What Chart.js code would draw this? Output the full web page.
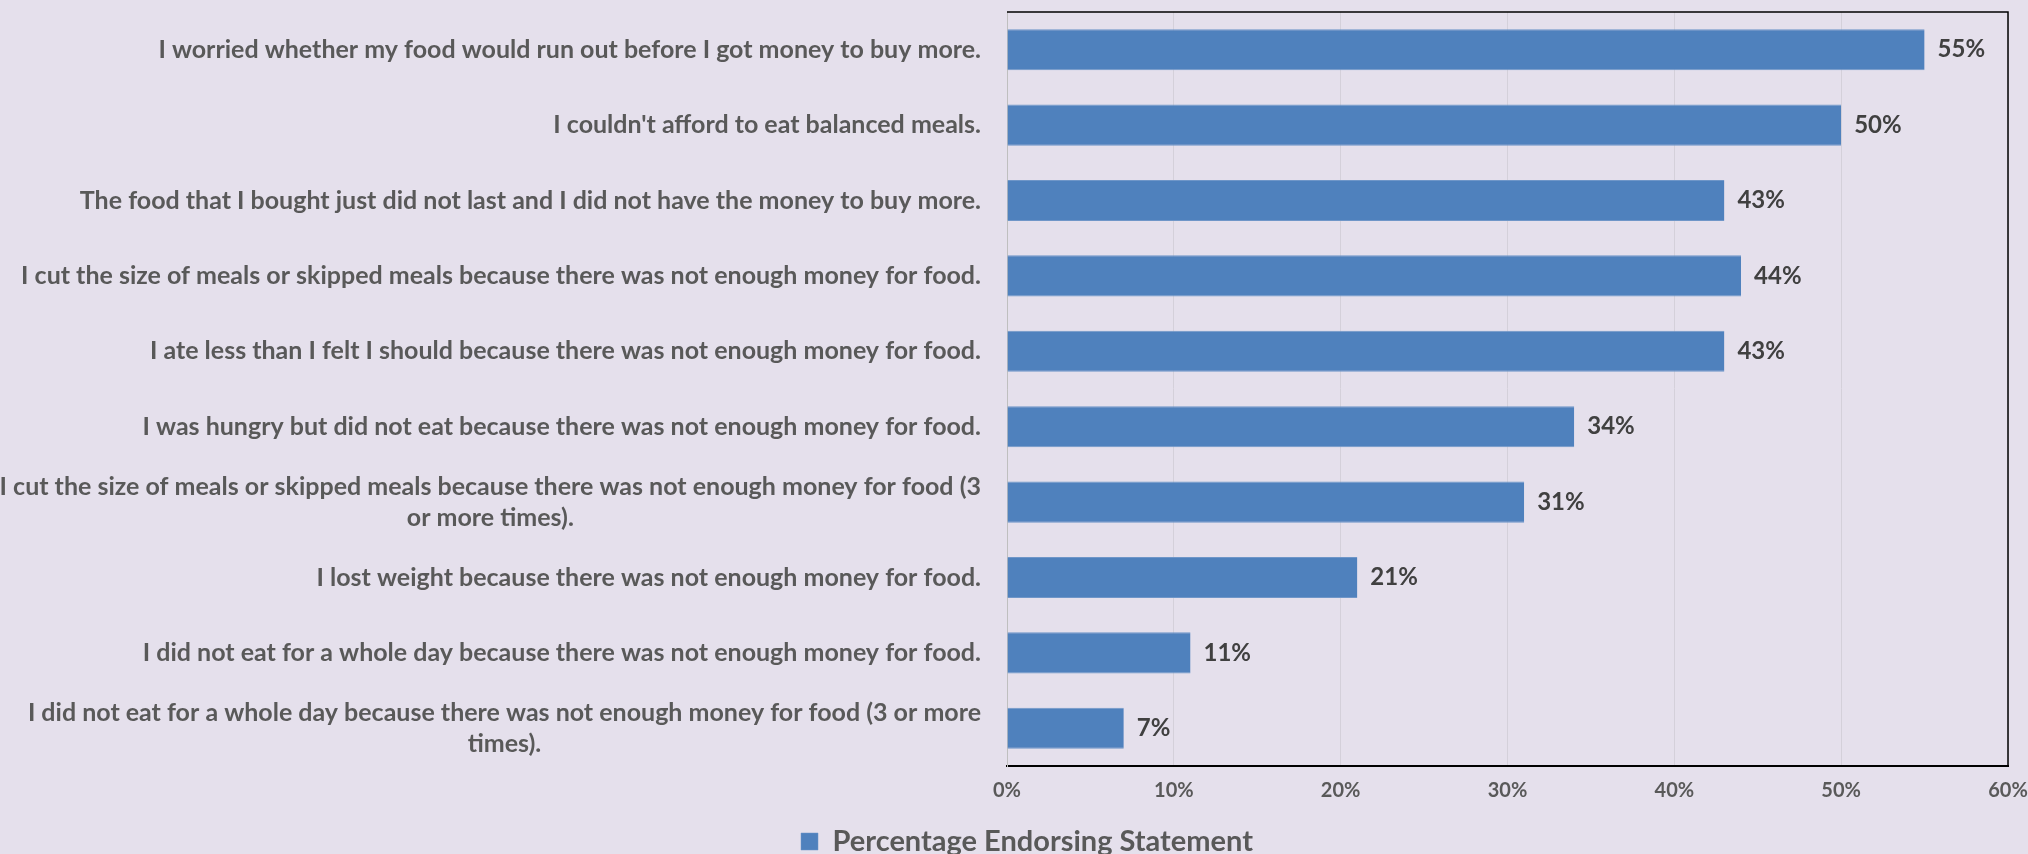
<!DOCTYPE html>
<html>
<head>
<meta charset="utf-8">
<script src="https://cdn.jsdelivr.net/npm/chart.js@4"></script>
<style>
    html, body { margin: 0; padding: 0; background: #E5E0EC; overflow: hidden; }
    #wrap { position: relative; width: 2028px; height: 854px; }
</style>
</head>
<body>
<div id="wrap"><canvas id="chart"></canvas></div>
<script>
// ===== Data =====
const statements = [
    'I worried whether my food would run out before I got money to buy more.',
    "I couldn't afford to eat balanced meals.",
    'The food that I bought just did not last and I did not have the money to buy more.',
    'I cut the size of meals or skipped meals because there was not enough money for food.',
    'I ate less than I felt I should because there was not enough money for food.',
    'I was hungry but did not eat because there was not enough money for food.',
    ['I cut the size of meals or skipped meals because there was not enough money for food (3', 'or more times).'],
    'I lost weight because there was not enough money for food.',
    'I did not eat for a whole day because there was not enough money for food.',
    ['I did not eat for a whole day because there was not enough money for food (3 or more', 'times).']
];
const endorsed = [55, 50, 43, 44, 43, 34, 31, 21, 11, 7];
const xMin = 0;
const xMax = 60;
const xStep = 10;
const seriesName = 'Percentage Endorsing Statement';

const BAR_COLOR = '#4F81BD';
const LABEL_COLOR = '#595959';
const VALUE_COLOR = '#404040';
const FONT = 'Lato';

// Statement labels: block right-aligned, each line centered within its block (like Excel)
const statementLabels = {
    id: 'statementLabels',
    afterDraw(chart) {
        const ctx = chart.ctx;
        const y = chart.scales.y;
        const right = y.right - 26;
        const lineHeight = 31;
        ctx.save();
        ctx.font = `bold 25px ${FONT}`;
        ctx.fillStyle = LABEL_COLOR;
        ctx.textAlign = 'center';
        ctx.textBaseline = 'middle';
        statements.forEach((s, i) => {
            const lines = Array.isArray(s) ? s : [s];
            const w = Math.max(...lines.map(l => ctx.measureText(l).width));
            const cy = y.getPixelForTick(i);
            lines.forEach((l, j) => {
                ctx.fillText(l, right - w / 2, cy + (j - (lines.length - 1) / 2) * lineHeight);
            });
        });
        ctx.restore();
    }
};

// Value labels at bar ends
const valueLabels = {
    id: 'valueLabels',
    afterDatasetsDraw(chart) {
        const ctx = chart.ctx;
        const meta = chart.getDatasetMeta(0);
        ctx.save();
        ctx.font = `bold 24px ${FONT}`;
        ctx.fillStyle = VALUE_COLOR;
        ctx.textAlign = 'left';
        ctx.textBaseline = 'middle';
        meta.data.forEach((bar, i) => {
            ctx.fillText(endorsed[i] + '%', bar.x + 13, bar.y);
        });
        ctx.restore();
    }
};

// Top and right frame lines of the plot area
const plotFrame = {
    id: 'plotFrame',
    afterDraw(chart) {
        const { ctx, chartArea: a } = chart;
        ctx.save();
        ctx.strokeStyle = '#000000';
        ctx.lineWidth = 1.5;
        ctx.beginPath();
        ctx.moveTo(a.left, a.top);
        ctx.lineTo(a.right, a.top);
        ctx.lineTo(a.right, a.bottom);
        ctx.stroke();
        ctx.restore();
    }
};

new Chart(document.getElementById('chart'), {
    type: 'bar',
    data: {
        labels: statements,
        datasets: [{
            label: seriesName,
            data: endorsed,
            backgroundColor: BAR_COLOR,
            borderColor: '#6F96C8',
            borderWidth: { top: 1, bottom: 1, left: 0, right: 0 },
            barPercentage: 0.545,
            categoryPercentage: 1.0,
        }]
    },
    options: {
        indexAxis: 'y',
        responsive: true,
        maintainAspectRatio: false,
        animation: false,
        // negative bottom padding lets the legend run off the bottom edge like the original
        layout: { padding: { top: 12, right: 20, left: 46, bottom: -12 } },
        plugins: {
            tooltip: { enabled: false },
            legend: {
                position: 'bottom',
                labels: {
                    color: LABEL_COLOR,
                    font: { family: FONT, size: 29, weight: 'bold' },
                    boxWidth: 17,
                    boxHeight: 17,
                    padding: 0,
                }
            }
        },
        scales: {
            x: {
                min: xMin,
                max: xMax,
                ticks: {
                    stepSize: xStep,
                    callback: v => v + '%',
                    color: LABEL_COLOR,
                    font: { family: FONT, size: 20, weight: 'bold', lineHeight: 1 },
                    padding: 15,
                },
                // empty title only used as a spacer between tick labels and legend
                title: {
                    display: true,
                    text: '',
                    font: { size: 1, lineHeight: 1 },
                    padding: { top: 0, bottom: 10 }
                },
                grid: { color: '#D4D0DA', drawTicks: false },
                border: { color: '#000000', width: 2 },
                afterFit(scale) { scale.paddingRight = 0; }
            },
            y: {
                ticks: { display: false },
                grid: { display: false },
                border: { color: '#BFBFBF', width: 1 },
                afterFit(scale) { scale.width = 1007 - 46; }
            }
        }
    },
    plugins: [statementLabels, valueLabels, plotFrame]
});
</script>
</body>
</html>
